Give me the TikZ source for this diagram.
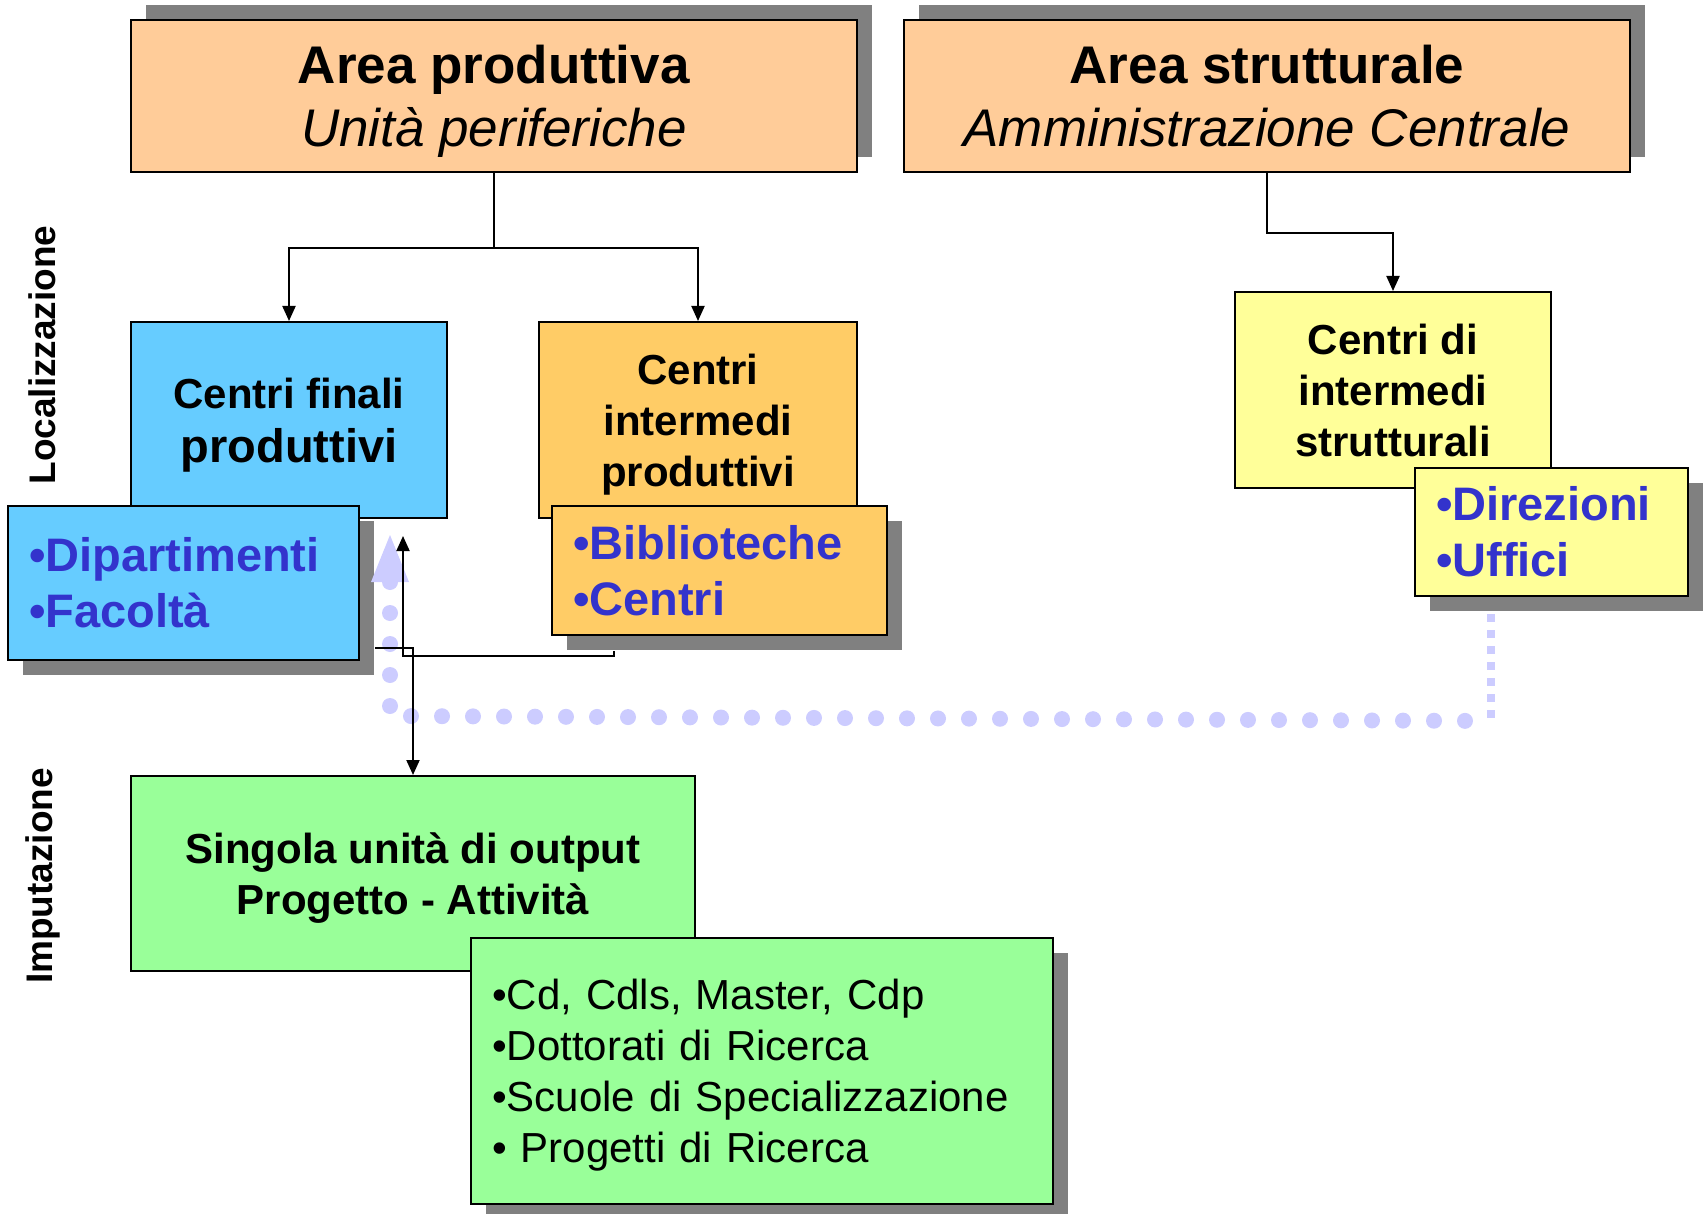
\documentclass[tikz,border=0pt]{standalone}
\usepackage{fontspec}
\setmainfont{Liberation Sans}
\usepackage{xcolor}
\usepackage{tikz}
\usetikzlibrary{arrows.meta,positioning,calc,shadows}

\definecolor{peach}{HTML}{FFCC99}
\definecolor{skyblue}{HTML}{66CCFF}
\definecolor{apricot}{HTML}{FFCC66}
\definecolor{paleyellow}{HTML}{FFFF99}
\definecolor{palegreen}{HTML}{99FF99}
\definecolor{itemblue}{HTML}{3333CC}
\definecolor{lilac}{HTML}{CCCCFF}
\definecolor{shade}{HTML}{808080}

\begin{document}
\begin{tikzpicture}[x=1pt,y=-1pt,>={Triangle[length=15pt,width=13pt]},line width=2pt]
\tikzstyle{block}=[draw,line width=2pt,rectangle,inner sep=0pt,align=center]
\tikzstyle{area}=[block,text depth=0pt,fill=peach,minimum width=726pt,minimum height=152pt,font=\fontsize{53}{63}\selectfont,general shadow={fill=shade,shadow xshift=15pt,shadow yshift=15pt}]
\tikzstyle{centre}=[block,text depth=0pt,minimum height=196pt,font=\bfseries\fontsize{42}{51}\selectfont]
\tikzstyle{list}=[block,align=left,inner xsep=21pt,font=\bfseries\fontsize{47}{56}\selectfont,text=itemblue,general shadow={fill=shade,shadow xshift=15pt,shadow yshift=-15pt}]
\tikzstyle{side}=[rotate=90,font=\bfseries\fontsize{37}{44}\selectfont]
\tikzstyle{dots}=[lilac,line width=16pt,line cap=round,dash pattern=on 0pt off 31pt]
\useasboundingbox (0,0) rectangle (1707,1214);

\node[area] (ap) at (494,96) {\textbf{Area produttiva}\\\textit{Unità periferiche}};
\node[area,right=45pt of ap] (as) {\textbf{Area strutturale}\\\textit{Amministrazione Centrale}};

\node[centre,fill=skyblue,minimum width=316pt] (cfp) at (289,420) {Centri finali\\[3pt]{\fontsize{47}{54}\selectfont produttivi}};
\node[centre,fill=apricot,minimum width=318pt] (cip) at (698,420) {Centri\\intermedi\\produttivi};
\node[centre,fill=paleyellow,minimum width=316pt] (cis) at (1393,390) {Centri di\\intermedi\\strutturali};

\node[list,fill=skyblue,text width=309pt,minimum height=154pt] (dip) at (183.5,583) {•Dipartimenti\\•Facoltà};
\node[list,fill=apricot,text width=293pt,minimum height=129pt] (bib) at (719.5,570.5) {•Biblioteche\\•Centri};
\node[list,fill=paleyellow,text width=231pt,minimum height=128pt] (dir) at (1551.5,532) {•Direzioni\\•Uffici};

\node[centre,fill=palegreen,minimum width=564pt,minimum height=195pt] (sing) at (413,873.5) {Singola unità di output\\Progetto - Attività};
\node[list,fill=palegreen,text=black,font=\fontsize{42}{51}\selectfont,text width=540pt,minimum height=266pt] (prog) at (762,1071) {•Cd, Cdls, Master, Cdp\\•Dottorati di Ricerca\\•Scuole di Specializzazione\\\smash{• Progetti di Ricerca}};

\node[side] (loc) at (42,355) {Localizzazione};
\node[side] (imp) at (43,876) {Imputazione};

\draw[->] (ap.south) -- ++(0,75) -| (cfp.north);
\draw[->] (ap.south) -- ++(0,75) -| (cip.north);
\draw[->] (as.south) -- ++(0,60) -| (cis.north);

\coordinate (dtip) at (390,535);
\coordinate (cfin) at ($(cfp.south)+(114,17)$);
\draw[lilac,line width=8pt,dash pattern=on 8pt off 8pt] ($(dir.south west)+(77,17)$) -- ++(0,107) coordinate (dturn);
\draw[dots] (390,582) -- (390,716) -- (dturn);
\fill[lilac] ($(dtip)+(-19,47)$) -- (dtip) -- ($(dtip)+(19,47)$) -- cycle;

\draw[->] ($(bib.south west)+(63,15)$) -- ++(0,5) -| (cfin);
\draw[->] ($(dip.south east)+(15,-13)$) -| (sing.north);
\end{tikzpicture}
\end{document}
